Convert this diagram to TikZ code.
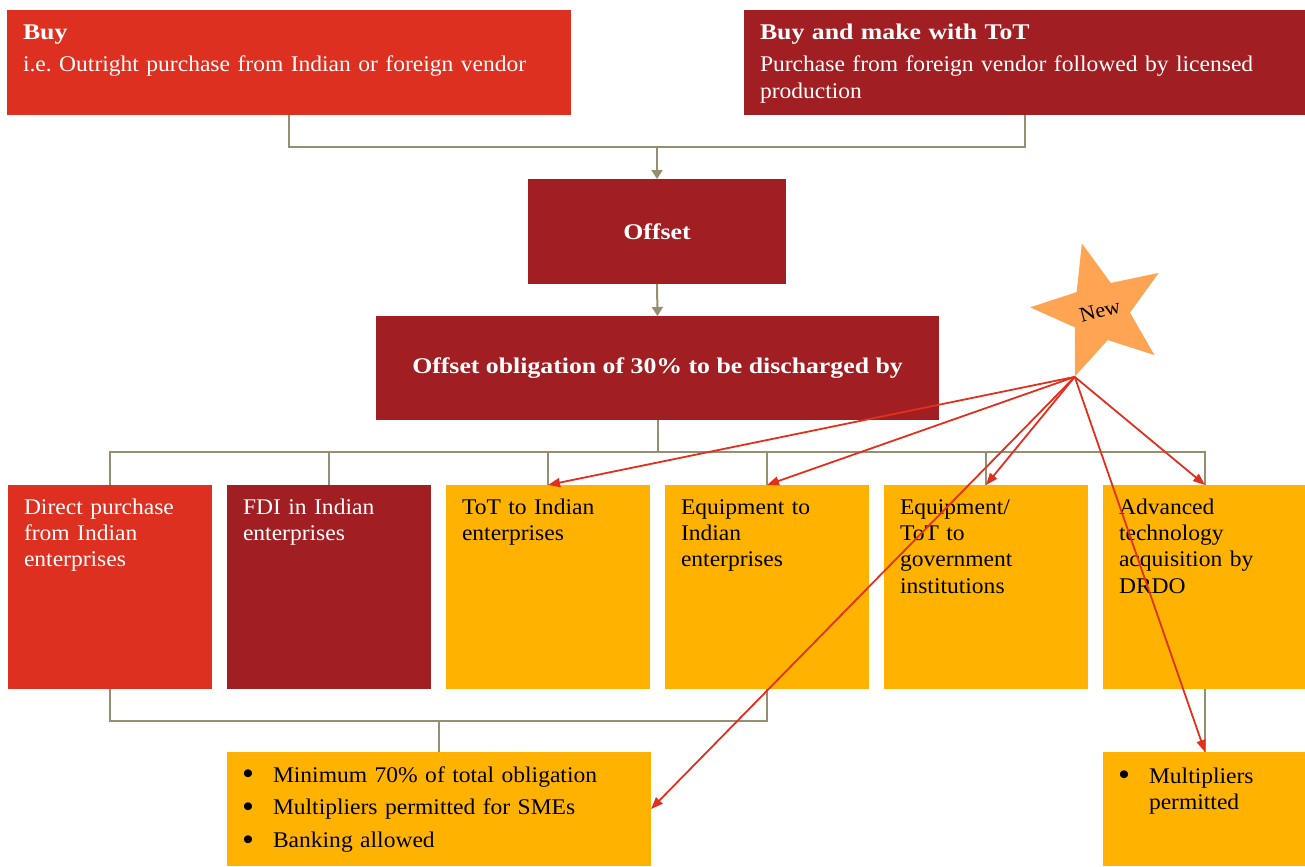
\documentclass[tikz,border=0pt]{standalone}
\usepackage{fontspec}
\usepackage{graphicx}
\setmainfont[FakeStretch=1.05,BoldFeatures={FakeStretch=1.15}]{Liberation Serif}
\frenchspacing
\usetikzlibrary{arrows.meta,shapes.geometric}

\definecolor{brightred}{HTML}{DD3020}
\definecolor{darkred}{HTML}{A11E22}
\definecolor{amber}{HTML}{FFB300}
\definecolor{starfill}{HTML}{FFA452}
\definecolor{linkgray}{HTML}{958F70}
\definecolor{pointer}{HTML}{E0301E}

% list bullet, a little heavier than the text bullet
\newcommand{\listdot}{\makebox[27bp][l]{\hspace*{-4bp}\raisebox{-0.12em}{\scalebox{1.45}{\textbullet}}}}

\begin{document}
\begin{tikzpicture}[x=1bp,y=-1bp,
  boxbase/.style={anchor=north west, inner xsep=16bp, inner ysep=0pt, outer sep=0pt,
    align=left, font=\fontsize{22.5}{26.5}\selectfont},
  headbox/.style={boxbase, text width=#1, text height=29bp, text depth=76bp},
  rowbox/.style={boxbase, text width=172bp, text height=29bp, text depth=175bp},
  centerbox/.style={inner sep=0pt, outer sep=0pt, align=center, text=white,
    font=\fontsize{22.5}{26.5}\selectfont\bfseries, fill=darkred},
  notebox/.style={boxbase, inner xsep=19bp, fill=amber, text=black},
  onred/.style={fill=brightred, text=white},
  ondark/.style={fill=darkred, text=white},
  onamber/.style={fill=amber, text=black},
  link/.style={draw=linkgray, line width=2bp},
  linkarrow/.style={link, -{Triangle[length=9bp,width=11bp]}},
  pointerarrow/.style={draw=pointer, line width=1.8bp, -{Triangle[length=12bp,width=9bp]}},
]
\useasboundingbox (0,0) rectangle (1305,866);

% top row: procurement categories
\node[headbox=532bp, onred] (buy) at (7,10)
  {\textbf{Buy}\\[6.5bp]i.e. Outright purchase from Indian or foreign vendor};
\node[headbox=530bp, ondark] (buymake) at (744,10)
  {\textbf{Buy and make with ToT}\\[6.5bp]Purchase from foreign vendor followed by licensed\\production};

% offset chain
\node[centerbox, minimum width=258bp, minimum height=105bp] (offset) at (657,231.5) {Offset};
\node[centerbox, minimum width=563bp, minimum height=104bp] (oblig) at (657.5,368)
  {Offset obligation of 30\% to be discharged by};

% discharge routes
\node[rowbox, onred]   (r1) at (8,485)    {Direct purchase\\from Indian\\enterprises};
\node[rowbox, ondark]  (r2) at (227,485)  {FDI in Indian\\enterprises};
\node[rowbox, onamber] (r3) at (446,485)  {ToT to Indian\\enterprises};
\node[rowbox, onamber] (r4) at (665,485)  {Equipment to\\Indian\\enterprises};
\node[rowbox, onamber] (r5) at (884,485)  {Equipment/\\ToT to\\government\\institutions};
\node[rowbox, onamber] (r6) at (1103,485) {Advanced\\technology\\acquisition by\\DRDO};

% conditions
\node[notebox, text width=386bp, text height=30bp, text depth=84bp] (bl) at (227,752)
  {\listdot Minimum 70\% of total obligation\\[6.5bp]
   \listdot Multipliers permitted for SMEs\\[6.5bp]
   \listdot Banking allowed};
\node[notebox, text width=166bp, text height=31bp, text depth=83bp] (br) at (1103,752)
  {\listdot Multipliers\\\hspace*{27bp}permitted};

% tree connectors
\draw[link] (buy.south) -- ++(0,32) -| (buymake.south);
\coordinate (merge) at (657,147);
\draw[linkarrow] (merge) -- (offset.north);
\draw[linkarrow] (offset.south) -- (oblig.north);
\draw[link] (oblig.south) -- ++(0,32);
\draw[link] (r1.north) -- ++(0,-33) -| (r6.north);
\foreach \n in {r2,r3,r4,r5} \draw[link] (\n.north) -- ++(0,-33);
\draw[link] (r1.south) -- ++(0,32) -| (r4.south);
\draw[link] (bl.north) -- ++(0,-31);
\draw[link] (r6.south) -- (br.north);

% "New" marker and its pointers
\node[star, star points=5, star point ratio=2.33, minimum size=140bp, inner sep=0pt,
  rotate=15, fill=starfill, font=\fontsize{21}{22}\selectfont] (new) at (1100,311) {New};
\foreach \t in {r3.north, r4.north, r5.north, r6.north, bl.east, br.north}
  \draw[pointerarrow] (new.outer point 3) -- (\t);
\end{tikzpicture}
\end{document}
